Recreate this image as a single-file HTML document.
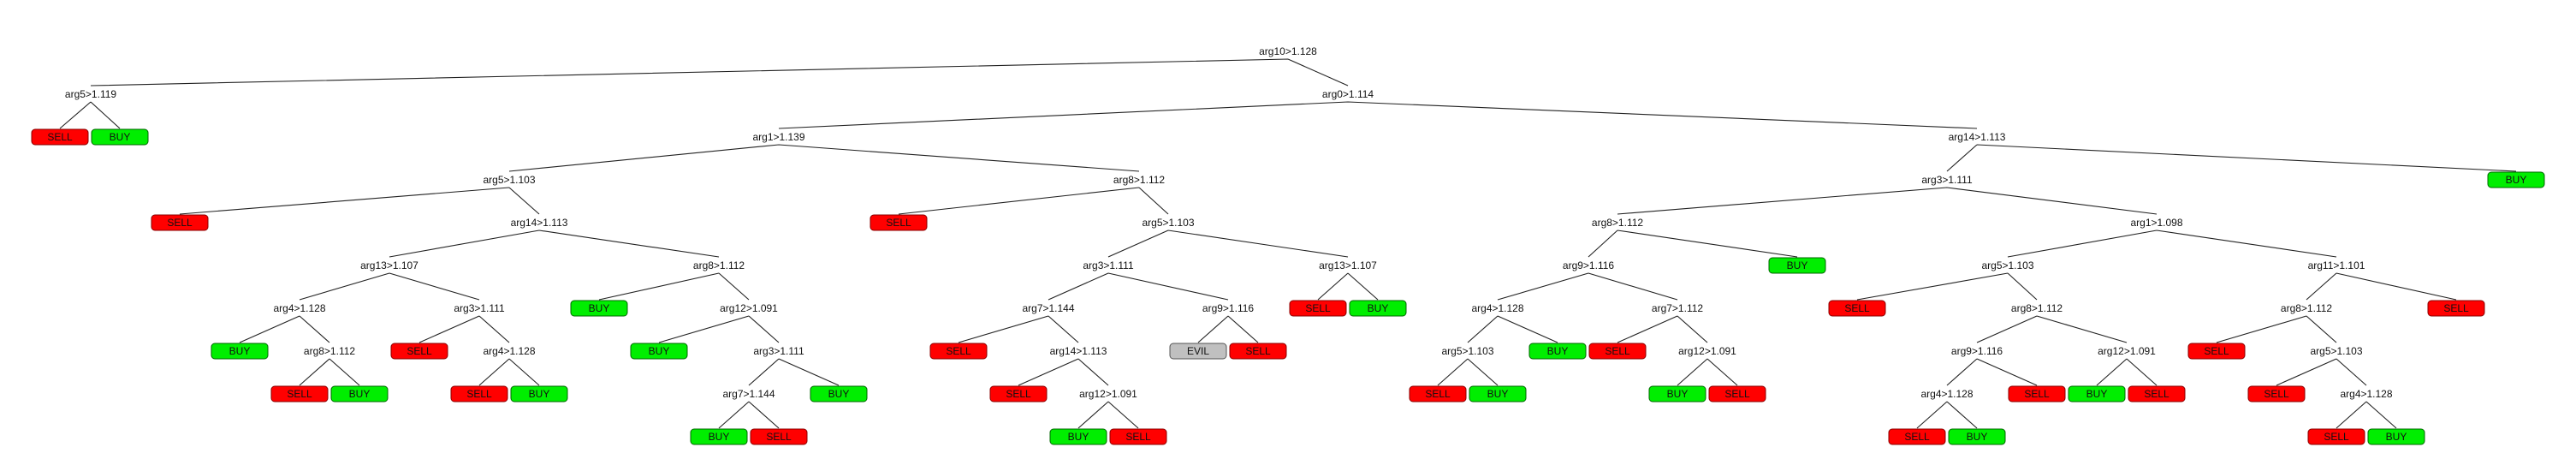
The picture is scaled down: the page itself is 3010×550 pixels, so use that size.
<!DOCTYPE html>
<html><head><meta charset="utf-8"><style>
html,body{margin:0;padding:0;background:#fff}
svg{display:block}
text{font-family:"Liberation Sans",Arial,sans-serif;font-size:12px;fill:#111;text-anchor:middle}
.e{stroke:#222;stroke-width:1.1;fill:none}
.s{fill:#ff0000;stroke:#8a0000;stroke-width:1}
.b{fill:#00ee00;stroke:#006600;stroke-width:1}
.v{fill:#c0c0c0;stroke:#555;stroke-width:1}
</style></head><body>
<svg width="3010" height="550" viewBox="0 0 3010 550" xmlns="http://www.w3.org/2000/svg">
<path class="e" d="
M1505 69L106 100 M1505 69L1575 100
M106 119L70 150 M106 119L140 150
M1575 119L910 150 M1575 119L2310 150
M910 169L595 200 M910 169L1331 200
M2310 169L2275 200 M2310 169L2940 200
M595 219L210 250 M595 219L630 250
M1331 219L1050 250 M1331 219L1365 250
M2275 219L1890 250 M2275 219L2520 250
M630 269L455 300 M630 269L840 300
M1365 269L1295 300 M1365 269L1575 300
M1890 269L1856 300 M1890 269L2100 300
M2520 269L2346 300 M2520 269L2730 300
M455 319L350 350 M455 319L560 350
M840 319L700 350 M840 319L875 350
M1295 319L1225 350 M1295 319L1435 350
M1575 319L1540 350 M1575 319L1610 350
M1856 319L1750 350 M1856 319L1960 350
M2346 319L2170 350 M2346 319L2380 350
M2730 319L2695 350 M2730 319L2870 350
M350 369L280 400 M350 369L385 400
M560 369L490 400 M560 369L595 400
M875 369L770 400 M875 369L910 400
M1225 369L1120 400 M1225 369L1260 400
M1435 369L1400 400 M1435 369L1470 400
M1750 369L1715 400 M1750 369L1820 400
M1960 369L1890 400 M1960 369L1995 400
M2380 369L2310 400 M2380 369L2485 400
M2695 369L2590 400 M2695 369L2730 400
M385 419L350 450 M385 419L420 450
M595 419L560 450 M595 419L630 450
M910 419L875 450 M910 419L980 450
M1260 419L1190 450 M1260 419L1295 450
M1715 419L1680 450 M1715 419L1750 450
M1995 419L1960 450 M1995 419L2030 450
M2310 419L2275 450 M2310 419L2380 450
M2485 419L2450 450 M2485 419L2520 450
M2730 419L2660 450 M2730 419L2765 450
M875 469L840 500 M875 469L910 500
M1295 469L1260 500 M1295 469L1330 500
M2275 469L2240 500 M2275 469L2310 500
M2765 469L2730 500 M2765 469L2800 500"/>
<!-- internal node labels -->
<text x="1505" y="64">arg10&gt;1.128</text>
<text x="106" y="114">arg5&gt;1.119</text>
<text x="1575" y="114">arg0&gt;1.114</text>
<text x="910" y="164">arg1&gt;1.139</text>
<text x="2310" y="164">arg14&gt;1.113</text>
<text x="595" y="214">arg5&gt;1.103</text>
<text x="1331" y="214">arg8&gt;1.112</text>
<text x="2275" y="214">arg3&gt;1.111</text>
<text x="630" y="264">arg14&gt;1.113</text>
<text x="1365" y="264">arg5&gt;1.103</text>
<text x="1890" y="264">arg8&gt;1.112</text>
<text x="2520" y="264">arg1&gt;1.098</text>
<text x="455" y="314">arg13&gt;1.107</text>
<text x="840" y="314">arg8&gt;1.112</text>
<text x="1295" y="314">arg3&gt;1.111</text>
<text x="1575" y="314">arg13&gt;1.107</text>
<text x="1856" y="314">arg9&gt;1.116</text>
<text x="2346" y="314">arg5&gt;1.103</text>
<text x="2730" y="314">arg11&gt;1.101</text>
<text x="350" y="364">arg4&gt;1.128</text>
<text x="560" y="364">arg3&gt;1.111</text>
<text x="875" y="364">arg12&gt;1.091</text>
<text x="1225" y="364">arg7&gt;1.144</text>
<text x="1435" y="364">arg9&gt;1.116</text>
<text x="1750" y="364">arg4&gt;1.128</text>
<text x="1960" y="364">arg7&gt;1.112</text>
<text x="2380" y="364">arg8&gt;1.112</text>
<text x="2695" y="364">arg8&gt;1.112</text>
<text x="385" y="414">arg8&gt;1.112</text>
<text x="595" y="414">arg4&gt;1.128</text>
<text x="910" y="414">arg3&gt;1.111</text>
<text x="1260" y="414">arg14&gt;1.113</text>
<text x="1715" y="414">arg5&gt;1.103</text>
<text x="1995" y="414">arg12&gt;1.091</text>
<text x="2310" y="414">arg9&gt;1.116</text>
<text x="2485" y="414">arg12&gt;1.091</text>
<text x="2730" y="414">arg5&gt;1.103</text>
<text x="875" y="464">arg7&gt;1.144</text>
<text x="1295" y="464">arg12&gt;1.091</text>
<text x="2275" y="464">arg4&gt;1.128</text>
<text x="2765" y="464">arg4&gt;1.128</text>
<!-- leaves -->
<g>
<rect class="s" x="37" y="151" width="66" height="18" rx="4"/><text x="70" y="164">SELL</text>
<rect class="b" x="107" y="151" width="66" height="18" rx="4"/><text x="140" y="164">BUY</text>
<rect class="b" x="2907" y="201" width="66" height="18" rx="4"/><text x="2940" y="214">BUY</text>
<rect class="s" x="177" y="251" width="66" height="18" rx="4"/><text x="210" y="264">SELL</text>
<rect class="s" x="1017" y="251" width="66" height="18" rx="4"/><text x="1050" y="264">SELL</text>
<rect class="b" x="2067" y="301" width="66" height="18" rx="4"/><text x="2100" y="314">BUY</text>
<rect class="b" x="667" y="351" width="66" height="18" rx="4"/><text x="700" y="364">BUY</text>
<rect class="s" x="1507" y="351" width="66" height="18" rx="4"/><text x="1540" y="364">SELL</text>
<rect class="b" x="1577" y="351" width="66" height="18" rx="4"/><text x="1610" y="364">BUY</text>
<rect class="s" x="2137" y="351" width="66" height="18" rx="4"/><text x="2170" y="364">SELL</text>
<rect class="s" x="2837" y="351" width="66" height="18" rx="4"/><text x="2870" y="364">SELL</text>
<rect class="b" x="247" y="401" width="66" height="18" rx="4"/><text x="280" y="414">BUY</text>
<rect class="s" x="457" y="401" width="66" height="18" rx="4"/><text x="490" y="414">SELL</text>
<rect class="b" x="737" y="401" width="66" height="18" rx="4"/><text x="770" y="414">BUY</text>
<rect class="s" x="1087" y="401" width="66" height="18" rx="4"/><text x="1120" y="414">SELL</text>
<rect class="v" x="1367" y="401" width="66" height="18" rx="4"/><text x="1400" y="414">EVIL</text>
<rect class="s" x="1437" y="401" width="66" height="18" rx="4"/><text x="1470" y="414">SELL</text>
<rect class="b" x="1787" y="401" width="66" height="18" rx="4"/><text x="1820" y="414">BUY</text>
<rect class="s" x="1857" y="401" width="66" height="18" rx="4"/><text x="1890" y="414">SELL</text>
<rect class="s" x="2557" y="401" width="66" height="18" rx="4"/><text x="2590" y="414">SELL</text>
<rect class="s" x="317" y="451" width="66" height="18" rx="4"/><text x="350" y="464">SELL</text>
<rect class="b" x="387" y="451" width="66" height="18" rx="4"/><text x="420" y="464">BUY</text>
<rect class="s" x="527" y="451" width="66" height="18" rx="4"/><text x="560" y="464">SELL</text>
<rect class="b" x="597" y="451" width="66" height="18" rx="4"/><text x="630" y="464">BUY</text>
<rect class="b" x="947" y="451" width="66" height="18" rx="4"/><text x="980" y="464">BUY</text>
<rect class="s" x="1157" y="451" width="66" height="18" rx="4"/><text x="1190" y="464">SELL</text>
<rect class="s" x="1647" y="451" width="66" height="18" rx="4"/><text x="1680" y="464">SELL</text>
<rect class="b" x="1717" y="451" width="66" height="18" rx="4"/><text x="1750" y="464">BUY</text>
<rect class="b" x="1927" y="451" width="66" height="18" rx="4"/><text x="1960" y="464">BUY</text>
<rect class="s" x="1997" y="451" width="66" height="18" rx="4"/><text x="2030" y="464">SELL</text>
<rect class="s" x="2347" y="451" width="66" height="18" rx="4"/><text x="2380" y="464">SELL</text>
<rect class="b" x="2417" y="451" width="66" height="18" rx="4"/><text x="2450" y="464">BUY</text>
<rect class="s" x="2487" y="451" width="66" height="18" rx="4"/><text x="2520" y="464">SELL</text>
<rect class="s" x="2627" y="451" width="66" height="18" rx="4"/><text x="2660" y="464">SELL</text>
<rect class="b" x="807" y="501" width="66" height="18" rx="4"/><text x="840" y="514">BUY</text>
<rect class="s" x="877" y="501" width="66" height="18" rx="4"/><text x="910" y="514">SELL</text>
<rect class="b" x="1227" y="501" width="66" height="18" rx="4"/><text x="1260" y="514">BUY</text>
<rect class="s" x="1297" y="501" width="66" height="18" rx="4"/><text x="1330" y="514">SELL</text>
<rect class="s" x="2207" y="501" width="66" height="18" rx="4"/><text x="2240" y="514">SELL</text>
<rect class="b" x="2277" y="501" width="66" height="18" rx="4"/><text x="2310" y="514">BUY</text>
<rect class="s" x="2697" y="501" width="66" height="18" rx="4"/><text x="2730" y="514">SELL</text>
<rect class="b" x="2767" y="501" width="66" height="18" rx="4"/><text x="2800" y="514">BUY</text>
</g>
</svg>
</body></html>
